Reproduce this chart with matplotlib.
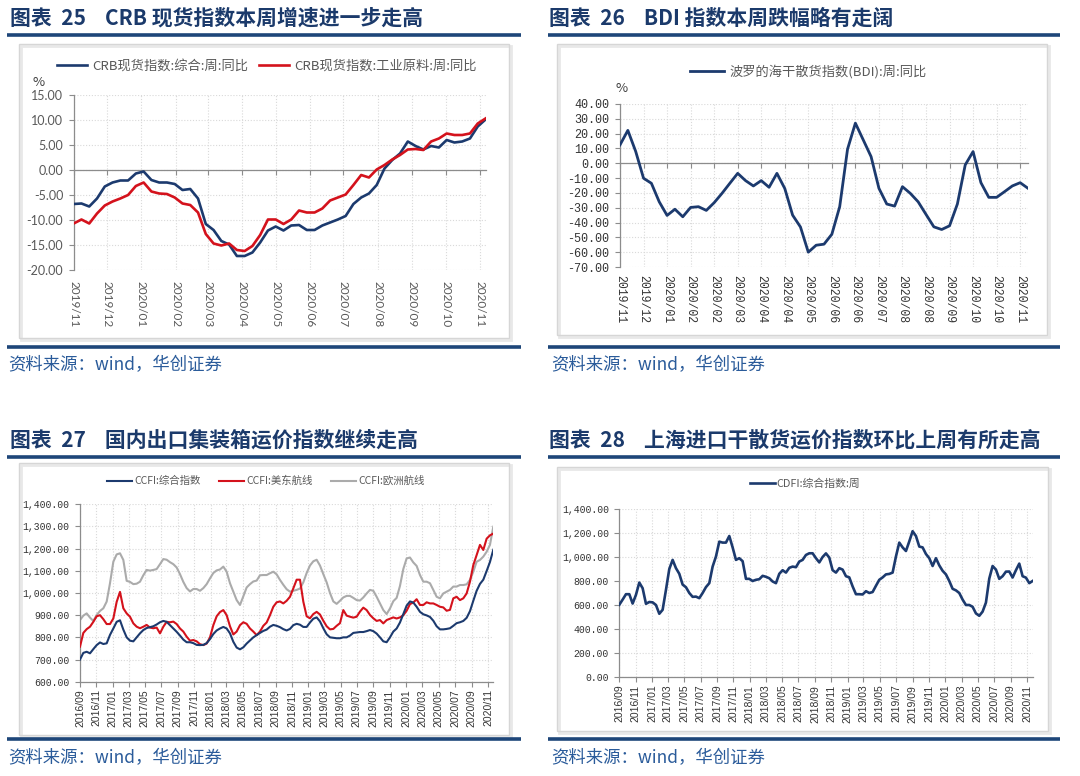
import numpy as np
import pandas as pd
import matplotlib
matplotlib.use('Agg')
import matplotlib.pyplot as plt
import matplotlib.dates as mdates
from matplotlib.lines import Line2D
from matplotlib.patches import Rectangle

# ---------------- data ----------------
# Chart 25: CRB spot index YoY (weekly)
crb_start = '2019-11-01'
crb_total = [-6.8, -6.7, -7.3, -5.7, -3.3, -2.5, -2.1, -2.1, -0.7, -0.3,
             -2.0, -2.5, -2.5, -2.8, -4.0, -3.8, -5.7, -10.8, -12.0, -14.2,
             -14.9, -17.2, -17.2, -16.5, -14.5, -12.1, -11.3, -12.1, -11.1, -11.0,
             -12.0, -12.0, -11.1, -10.5, -9.9, -9.2, -6.8, -5.5, -4.7, -3.0,
             0.3, 2.0, 3.3, 5.7, 4.8, 4.1, 4.8, 4.5, 6.0, 5.5,
             5.7, 6.3, 8.7, 10.1]
crb_industrial = [-10.7, -9.9, -10.7, -8.7, -7.1, -6.3, -5.7, -5.0, -3.2, -2.5,
                  -4.3, -4.7, -4.8, -5.5, -6.7, -7.0, -8.5, -12.8, -14.7, -15.1,
                  -14.7, -16.0, -16.2, -15.2, -13.0, -9.9, -9.9, -10.8, -9.9, -8.1,
                  -8.5, -8.5, -7.7, -6.1, -5.5, -4.9, -3.0, -1.0, -1.5, 0.1,
                  1.0, 2.1, 3.0, 4.1, 4.2, 4.0, 5.7, 6.3, 7.3, 7.0,
                  7.0, 7.3, 9.3, 10.3]
crb_names = ['CRB现货指数:综合:周:同比', 'CRB现货指数:工业原料:周:同比']

# Chart 26: BDI YoY (weekly, category axis)
bdi = [12.4, 22.2, 8.0, -10.1, -13.5, -26.0, -35.2, -31.0, -36.1, -29.8,
       -29.3, -31.8, -26.6, -20.3, -13.5, -6.8, -11.7, -15.3, -11.7, -16.2,
       -6.8, -17.0, -35.0, -43.0, -60.0, -55.3, -54.6, -47.9, -29.3, 9.5,
       27.1, 15.8, 4.5, -16.9, -27.5, -28.9, -15.8, -20.3, -26.0, -34.5,
       -42.9, -44.7, -42.2, -27.5, -1.1, 7.9, -13.1, -23.0, -23.0, -19.2,
       -15.3, -13.1, -16.9]
bdi_ticklabels = ['2019/11', '2019/12', '2020/01', '2020/02', '2020/02', '2020/03',
                  '2020/04', '2020/04', '2020/05', '2020/06', '2020/06', '2020/07',
                  '2020/08', '2020/08', '2020/09', '2020/10', '2020/10', '2020/11']
bdi_name = '波罗的海干散货指数(BDI):周:同比'

# Chart 27 / 28: series sampled evenly from 2016-09-01 to 2020-11-21
freight_start, freight_end = '2016-09-01', '2020-11-21'
ccfi_total = [700, 730, 735, 728, 747, 765, 777, 770, 773, 811,
              840, 870, 877, 835, 800, 785, 782, 800, 818, 833,
              842, 846, 850, 858, 868, 874, 870, 855, 840, 825,
              808, 790, 778, 778, 774, 766, 765, 766, 774, 792,
              815, 831, 840, 847, 840, 818, 780, 754, 746, 755,
              772, 786, 800, 810, 820, 829, 835, 848, 856, 852,
              846, 837,
              831, 838, 855, 861, 857, 847, 847, 867, 884, 890,
              872, 841, 814, 800, 798, 796, 796, 800, 800, 808,
              820, 822, 824, 824, 828, 833, 828, 817, 800, 782,
              778, 800, 826, 840, 867, 905, 943, 962, 957, 938,
              915, 904, 899, 892, 875, 850, 836, 836, 838, 841,
              852, 864, 868, 874, 888, 918, 965, 1010, 1041, 1060,
              1099, 1140, 1195]
ccfi_us_east = [758, 820, 837, 848, 870, 895, 900, 882, 860, 860,
                885, 960, 1005, 931, 908, 893, 863, 848, 841, 848,
                856, 844, 841, 844, 818, 848, 870, 868, 871, 860,
                840, 826, 803, 785, 788, 782, 769, 765, 772, 800,
                855, 895, 914, 923, 900, 850, 813, 826, 855, 868,
                861, 840, 826, 810, 826, 852, 867, 900, 938, 958,
                962, 953,
                965, 983, 1021, 1060, 1060, 961, 895, 886, 905, 915,
                903, 875, 850, 836, 838, 852, 864, 923, 898, 893,
                889, 893, 916, 934, 923, 901, 886, 874, 878, 863,
                878, 884, 890, 885, 890, 900, 920, 950, 957, 972,
                946, 946, 958, 953, 953, 946, 938, 935, 920, 924,
                976, 983, 968, 976, 998, 1051, 1126, 1171, 1217, 1194,
                1245, 1260, 1268]
ccfi_europe = [878, 898, 908, 889, 874, 901, 919, 931, 961, 1044,
               1141, 1174, 1179, 1149, 1055, 1050, 1040, 1042, 1051, 1080,
               1104, 1101, 1104, 1108, 1130, 1153, 1150, 1139, 1130, 1115,
               1085, 1050, 1022, 1007, 1018, 1018, 1010, 1022, 1040, 1066,
               1090, 1102, 1106, 1119, 1096, 1044, 1006, 968, 946, 985,
               1025, 1040, 1052, 1056, 1080, 1081, 1081, 1089, 1096, 1084,
               1059, 1037,
               1017, 1006, 1010, 1014, 1020, 1048, 1090, 1124, 1143, 1150,
               1124, 1085, 1048, 1000, 962, 951, 965, 980, 987, 987,
               978, 968, 966, 980, 998, 1014, 1010, 983, 953, 923,
               905, 930, 963, 978, 1032, 1108, 1156, 1160, 1138, 1122,
               1081, 1051, 1051, 1044, 1014, 983, 976, 998, 1006, 1014,
               1029, 1029, 1036, 1036, 1039, 1059, 1096, 1141, 1149, 1164,
               1186, 1217, 1299]
ccfi_names = ['CCFI:综合指数', 'CCFI:美东航线', 'CCFI:欧洲航线']

cdfi = [602, 645, 690, 690, 612, 685, 787, 740, 610, 625,
        622, 600, 527, 560, 726, 900, 976, 907, 860, 770,
        748, 700, 668, 670, 657, 700, 749, 782, 920, 1004,
        1128, 1120, 1120, 1175, 1080, 976, 990, 965, 818, 818,
        800, 810, 815, 843, 835, 823, 796, 782, 860, 890,
        870, 910, 920, 915, 962, 976, 1017, 1031, 1031, 990,
        955, 1000,
        1030, 995, 890, 870, 907, 895, 840, 830, 755, 690,
        690, 688, 715, 700, 708, 760, 810, 830, 855, 859,
        870, 1004, 1120, 1080, 1050, 1130, 1215, 1175, 1087, 1080,
        1025, 990, 925, 990, 930, 885, 855, 800, 735, 722,
        700, 645, 600, 600, 585, 530, 510, 545, 620, 820,
        925, 895, 818, 840, 878, 879, 829, 890, 945, 840,
        828, 782, 800]
cdfi_name = 'CDFI:综合指数:周'

titles = ['图表  25    CRB 现货指数本周增速进一步走高',
          '图表  26    BDI 指数本周跌幅略有走阔',
          '图表  27    国内出口集装箱运价指数继续走高',
          '图表  28    上海进口干散货运价指数环比上周有所走高']
source = '资料来源：wind，华创证券'

# ---------------- style ----------------
CJK = ['Noto Sans CJK SC', 'DejaVu Sans']
plt.rcParams['font.family'] = CJK
plt.rcParams['axes.unicode_minus'] = False

NAVY = '#1C3A6E'
RED = '#D4121C'
GRAY = '#ABABAB'
TITLE_C = '#1B3A6B'
RULE_C = '#1E4679'
SRC_C = '#2A5B9A'
AX_C = '#8C8C8C'
GRID_C = '#D9D9D9'
TXT_C = '#595959'

W, H = 1080, 776
fig = plt.figure(figsize=(W / 100, H / 100), dpi=100)
fig.patch.set_facecolor('white')


def fx(px):
    return px / W


def fy(py):
    return 1 - py / H


def add_axes(l, t, r, b):
    return fig.add_axes([fx(l), fy(b), (r - l) / W, (b - t) / H])


def frame(l, t, r, b):
    fig.add_artist(Rectangle((fx(l) + 2 / W, fy(b) - 2 / H), (r - l) / W, (b - t) / H,
                             transform=fig.transFigure, fill=False, ec='#E8E8E8', lw=2.0, zorder=0))
    fig.add_artist(Rectangle((fx(l), fy(b)), (r - l) / W, (b - t) / H,
                             transform=fig.transFigure, fill=False, ec='#D6D6D6', lw=1.0, zorder=0))


def rule(x0, x1, y):
    fig.add_artist(Line2D([fx(x0), fx(x1)], [fy(y), fy(y)], transform=fig.transFigure,
                          color=RULE_C, lw=2.6, solid_capstyle='butt'))


def style_axes(ax):
    for s in ['top', 'right']:
        ax.spines[s].set_visible(False)
    for s in ['left', 'bottom']:
        ax.spines[s].set_color(AX_C)
        ax.spines[s].set_linewidth(0.9)
    ax.grid(True, linestyle=(0, (1, 1.6)), color=GRID_C, lw=0.8, zorder=0)
    ax.set_axisbelow(True)
    ax.tick_params(axis='both', direction='out', length=3.5, width=0.8, color=AX_C)


# titles, rules, frames, sources
for (x, y), t in zip([(10, 18), (549, 18), (10, 440), (549, 440)], titles):
    fig.text(fx(x), fy(y), t, fontsize=15, fontweight='bold', color=TITLE_C,
             ha='left', va='center', family=CJK)
rule(7, 521, 35)
rule(548, 1060, 35)
rule(7, 521, 457)
rule(548, 1060, 457)
rule(7, 521, 347)
rule(548, 1060, 347)
rule(7, 521, 739)
rule(548, 1060, 739)
frame(19, 44, 509, 338)
frame(557, 44, 1047, 335)
frame(19, 463, 509, 735)
frame(557, 467, 1048, 731)
for (x, y) in [(8, 365), (551, 365), (8, 758), (551, 758)]:
    fig.text(fx(x), fy(y), source, fontsize=12.5, color=SRC_C, style='italic',
             ha='left', va='center', family=CJK)

# ---------------- chart 25 ----------------
ax1 = add_axes(73.7, 95, 485.5, 270)
x1 = mdates.date2num(pd.date_range(crb_start, periods=len(crb_total), freq='7D'))
l1, = ax1.plot(x1, crb_total, color=NAVY, lw=1.9, zorder=3)
l2, = ax1.plot(x1, crb_industrial, color=RED, lw=1.9, zorder=3)
ax1.set_xlim(x1[0], x1[-1])
ax1.set_ylim(-20, 15)
style_axes(ax1)
t1 = pd.date_range('2019-11-01', '2020-11-01', freq='MS')
tk1 = mdates.date2num(t1)
ax1.set_xticks(tk1)
ax1.spines['bottom'].set_position(('data', 0))
ax1.tick_params(axis='x', labelbottom=False)
yt1 = np.arange(-20, 15.1, 5)
ax1.set_yticks(yt1, [f'{v:.2f}' for v in yt1], fontfamily='Lato', fontsize=9, color=TXT_C)
ax1.tick_params(axis='y', pad=4)
sec1 = ax1.secondary_xaxis('bottom')
sec1.set_xticks(tk1, [d.strftime('%Y/%m') for d in t1], fontfamily='Lato', fontsize=8.5,
                color=TXT_C, rotation=270)
sec1.tick_params(axis='x', length=0, pad=8)
sec1.spines['bottom'].set_visible(False)
ax1.legend([l1, l2], crb_names, loc='center', bbox_to_anchor=(fx(267), fy(66)),
           bbox_transform=fig.transFigure, ncol=2, frameon=False, fontsize=9.5,
           handlelength=2.3, handletextpad=0.4, columnspacing=0.8, labelcolor=TXT_C)
fig.text(fx(39), fy(82), '%', fontsize=9.5, color='#404040', ha='center', va='center')

# ---------------- chart 26 ----------------
ax2 = add_axes(620, 104, 1028, 267)
x2 = np.arange(len(bdi))
l3, = ax2.plot(x2, bdi, color=NAVY, lw=2.0, zorder=3)
ax2.set_xlim(x2[0], x2[-1])
ax2.set_ylim(-70, 40)
style_axes(ax2)
tk2 = np.arange(0, len(bdi), 3)[:len(bdi_ticklabels)]
ax2.set_xticks(tk2)
ax2.spines['bottom'].set_position(('data', 0))
ax2.tick_params(axis='x', labelbottom=False)
yt2 = np.arange(-70, 40.1, 10)
ax2.set_yticks(yt2, [f'{v:.2f}' for v in yt2], fontfamily='Liberation Mono', fontsize=8.5,
               color='#333333')
ax2.tick_params(axis='y', pad=4)
sec2 = ax2.secondary_xaxis('bottom')
sec2.set_xticks(tk2, bdi_ticklabels, fontfamily='Liberation Mono', fontsize=8.3,
                color='#333333', rotation=270)
sec2.tick_params(axis='x', length=0, pad=6)
sec2.spines['bottom'].set_visible(False)
ax2.legend([l3], [bdi_name], loc='center', bbox_to_anchor=(fx(808), fy(72)),
           bbox_transform=fig.transFigure, frameon=False, fontsize=9.5,
           handlelength=2.6, handletextpad=0.4, labelcolor=TXT_C)
fig.text(fx(622), fy(89), '%', fontsize=9.5, color='#404040', ha='center', va='center')

# ---------------- chart 27 ----------------
d34 = mdates.date2num(pd.date_range(freight_start, freight_end, periods=len(ccfi_total)))
t34 = pd.date_range('2016-09-01', '2020-11-01', freq='2MS')
tk34 = mdates.date2num(t34)
lab34 = [d.strftime('%Y/%m') for d in t34]

ax3 = add_axes(80, 504.3, 493.3, 681.7)
la, = ax3.plot(d34, ccfi_total, color=NAVY, lw=1.5, zorder=4)
lb, = ax3.plot(d34, ccfi_us_east, color=RED, lw=1.5, zorder=3)
lc, = ax3.plot(d34, ccfi_europe, color=GRAY, lw=1.5, zorder=2)
ax3.set_xlim(d34[0], d34[-1])
ax3.set_ylim(600, 1400)
style_axes(ax3)
ax3.set_xticks(tk34, lab34, fontfamily='Liberation Sans', fontsize=7.5, color='#333333',
               rotation=90)
yt3 = np.arange(600, 1400.1, 100)
ax3.set_yticks(yt3, [f'{v:,.2f}' for v in yt3], fontfamily='Liberation Mono', fontsize=7,
               color='#333333')
ax3.tick_params(axis='y', pad=4)
ax3.tick_params(axis='x', pad=2)
ax3.legend([la, lb, lc], ccfi_names, loc='center', bbox_to_anchor=(fx(266), fy(481)),
           bbox_transform=fig.transFigure, ncol=3, frameon=False, fontsize=7.5,
           handlelength=2.4, handletextpad=0.2, columnspacing=1.8, labelcolor=TXT_C)

# ---------------- chart 28 ----------------
ax4 = add_axes(619.3, 509, 1032.6, 677)
ld, = ax4.plot(d34, cdfi, color=NAVY, lw=1.9, zorder=3)
ax4.set_xlim(d34[0], d34[-1])
ax4.set_ylim(0, 1400)
style_axes(ax4)
ax4.set_xticks(tk34, lab34, fontfamily='Liberation Sans', fontsize=7.5, color='#333333',
               rotation=90)
yt4 = np.arange(0, 1400.1, 200)
ax4.set_yticks(yt4, [f'{v:,.2f}' for v in yt4], fontfamily='Liberation Mono', fontsize=7,
               color='#333333')
ax4.tick_params(axis='y', pad=4)
ax4.tick_params(axis='x', pad=2)
ax4.legend([ld], [cdfi_name], loc='center', bbox_to_anchor=(fx(805), fy(484)),
           bbox_transform=fig.transFigure, frameon=False, fontsize=7.8,
           handlelength=2.3, handletextpad=0.2, labelcolor=TXT_C)

fig.savefig('out.png', dpi=100, facecolor='white')
